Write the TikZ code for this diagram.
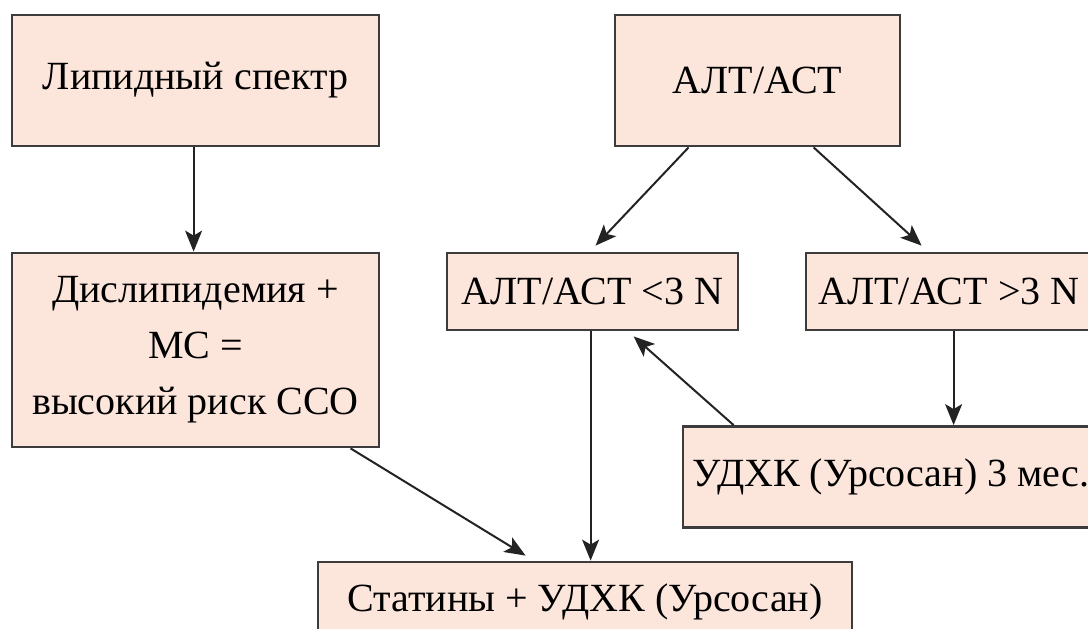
\documentclass[tikz,border=0pt]{standalone}
\usepackage{fontspec}
\newfontfamily\boxfont{Liberation Serif}
\usetikzlibrary{arrows.meta,calc}
\definecolor{boxfill}{RGB}{252,230,220}
\definecolor{boxline}{RGB}{60,60,60}
\definecolor{arrowc}{RGB}{35,35,35}
\tikzset{
  box/.style={draw=boxline, line width=2.8pt, fill=boxfill, inner sep=0pt,
    font=\fontsize{40}{56}\selectfont, align=center},
  conn/.style={draw=arrowc, line width=2pt, -{Stealth[length=21pt,width=17pt,inset=5pt]}}
}
\begin{document}
\begin{tikzpicture}[x=1pt,y=-1pt]
\useasboundingbox (0,0) rectangle (1088,629);
\node[box, minimum width=367pt, minimum height=131pt] (A) at (195.5,80.5) {\boxfont Липидный спектр};
\node[box, minimum width=285pt, minimum height=131pt] (B) at (757.5,80.5) {\boxfont АЛТ/АСТ};
\node[box, minimum width=367pt, minimum height=194pt] (C) at (195.5,350) {\boxfont Дислипидемия +\\\boxfont МС =\\\boxfont высокий риск ССО};
\node[box, minimum width=291pt, minimum height=77pt] (D) at (592.5,291.5) {\boxfont АЛТ/АСТ <3 N};
\node[box, minimum width=286pt, minimum height=77pt] (E) at (949,291.5) {\boxfont АЛТ/АСТ >3 N};
\node[box, minimum width=416pt, minimum height=101pt] (F) at (891,477) {\boxfont УДХК (Урсосан) 3 мес.};
\node[box, minimum width=534pt, minimum height=80pt] (G) at (585,602) {\boxfont Статины + УДХК (Урсосан)};
% connectors
\draw[conn] ($(A.south west)+(183,0)$) -- ($(C.north west)+(183,0)$);
\draw[conn] ($(B.south west)+(75,0)$) -- ($(D.north west)+(150,-6)$);
\draw[conn] ($(B.south west)+(200,0)$) -- ($(E.north west)+(117,-6)$);
\draw[conn] ($(D.south west)+(145,0)$) -- ($(G.north west)+(274,0)$);
\draw[conn] ($(C.south west)+(340,0)$) -- ($(G.north west)+(209,-5)$);
\draw[conn] ($(E.south west)+(149,0)$) -- ($(F.north west)+(272,0)$);
\draw[conn] ($(F.north west)+(52,0)$) -- ($(D.south west)+(188,5)$);
\end{tikzpicture}
\end{document}
